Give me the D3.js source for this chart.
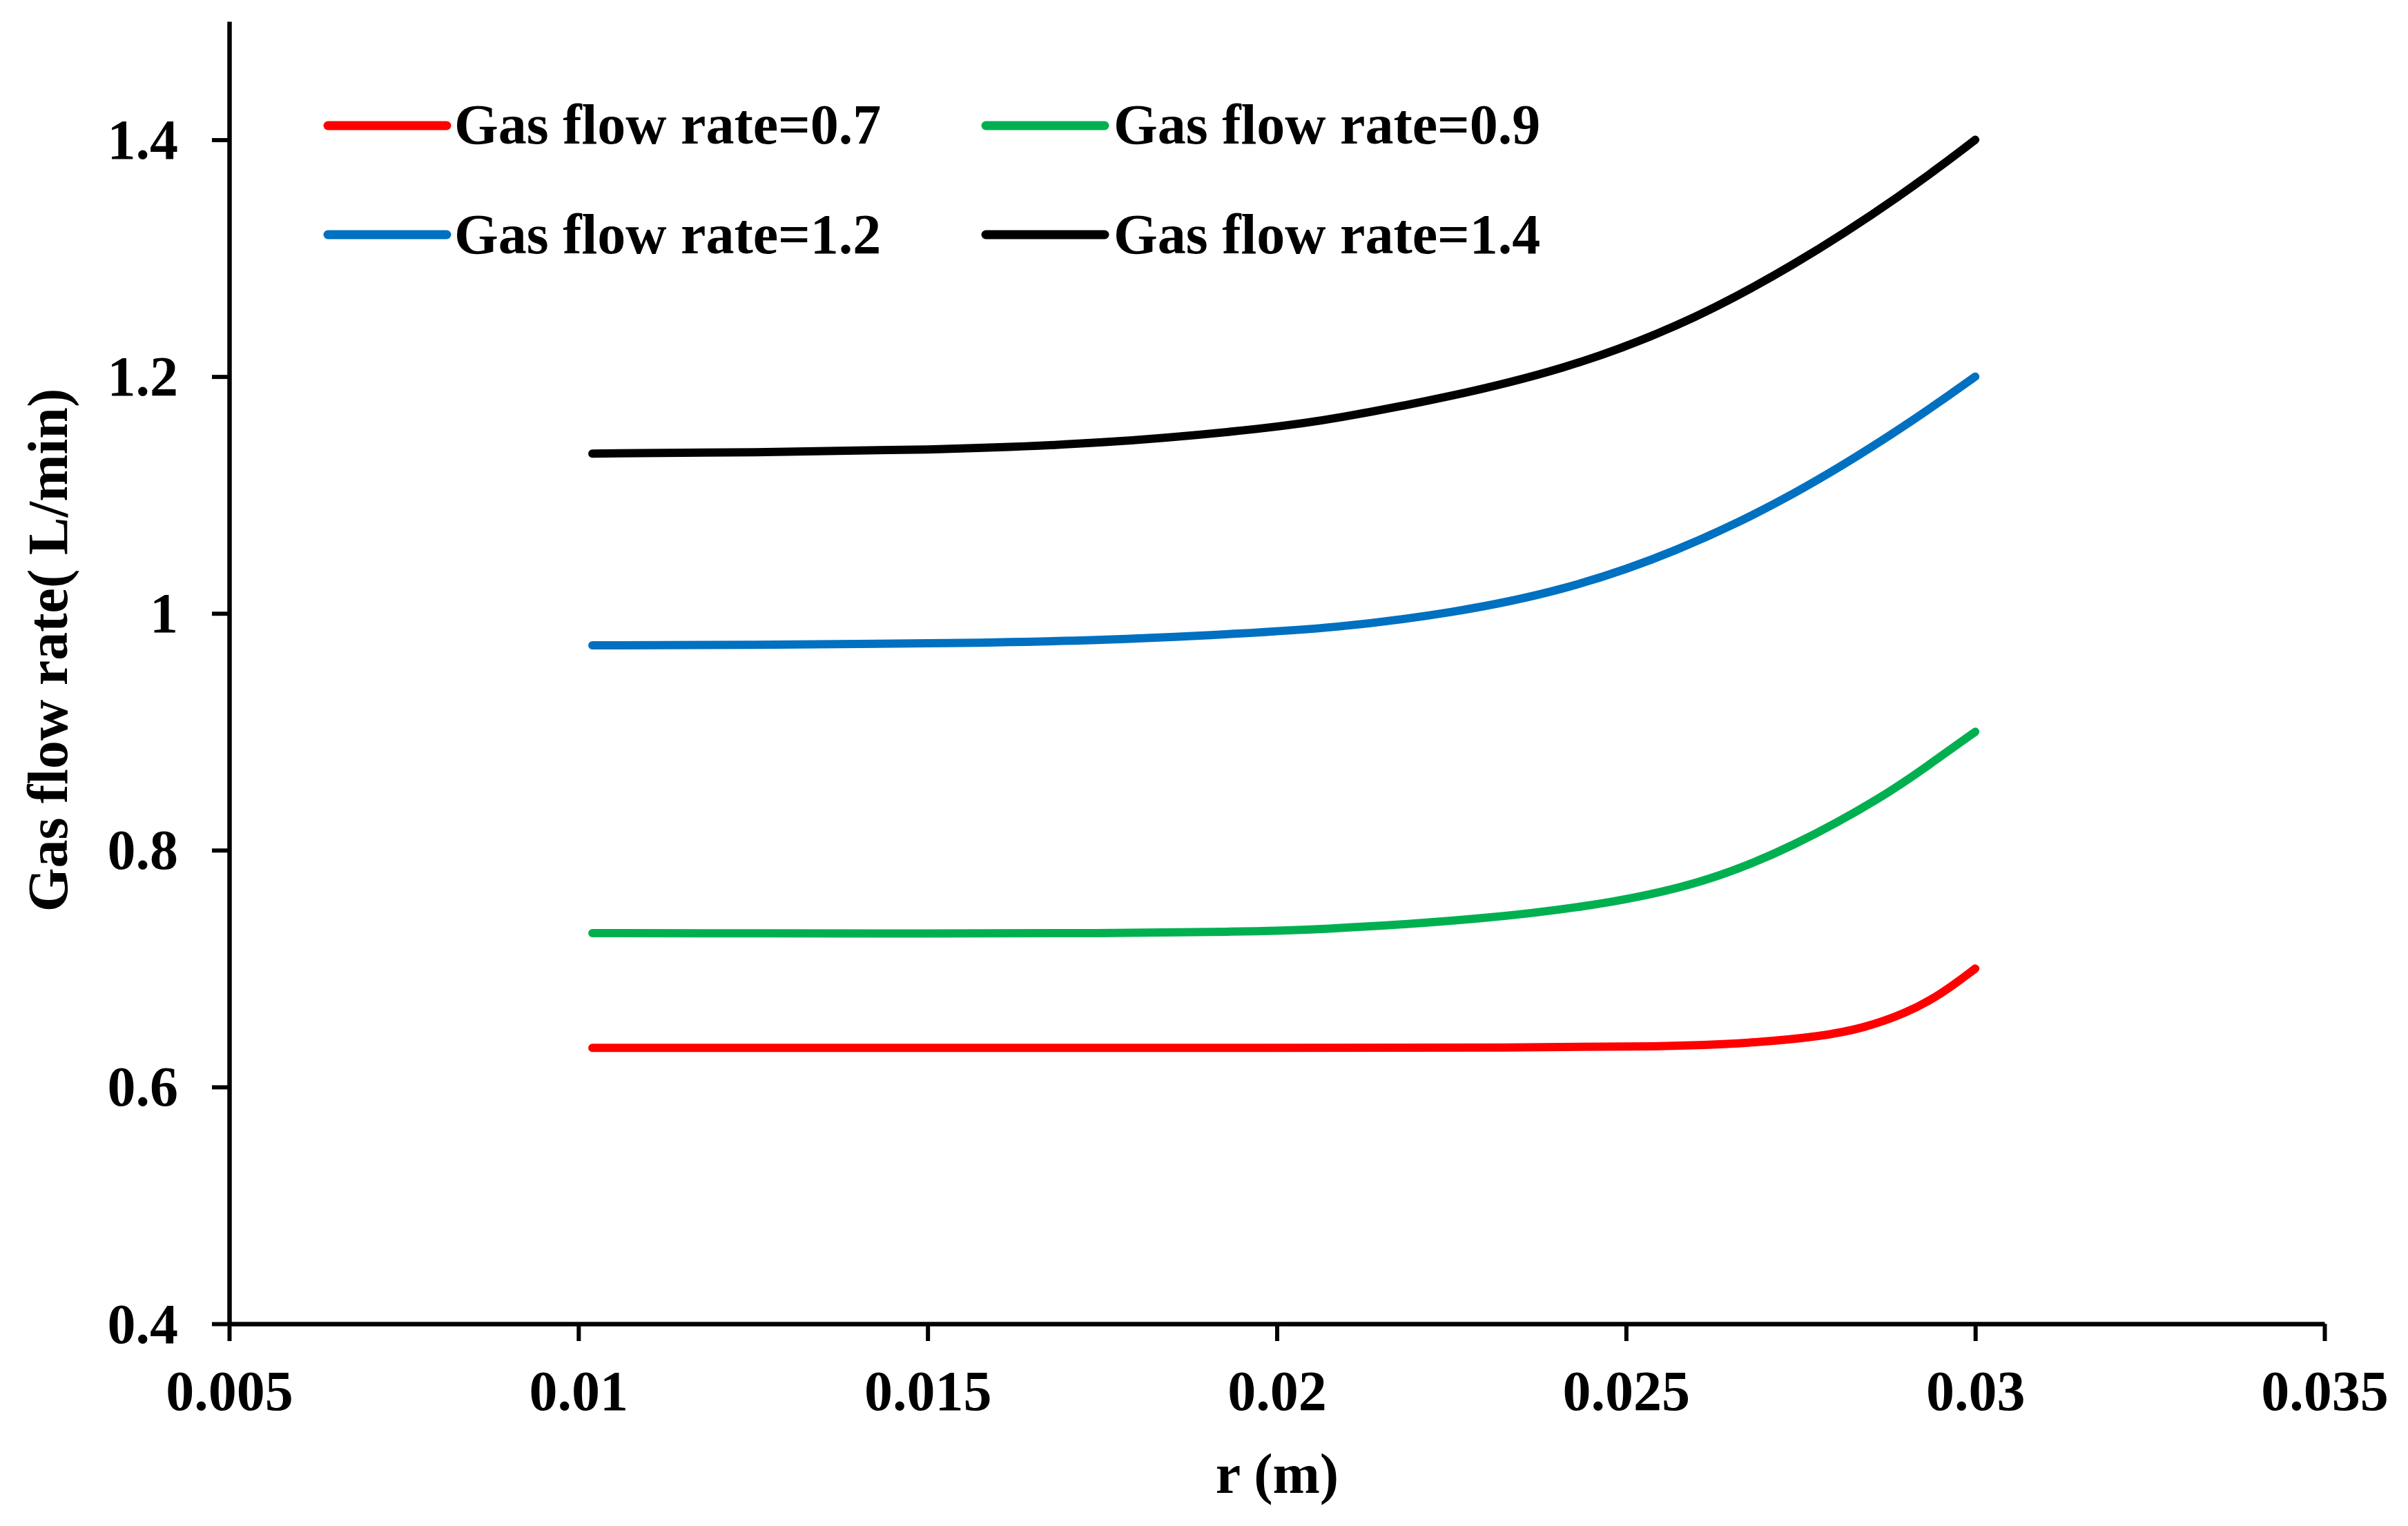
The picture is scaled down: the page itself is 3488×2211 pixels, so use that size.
<!DOCTYPE html>
<html>
<head>
<meta charset="utf-8">
<script src="https://cdn.jsdelivr.net/npm/d3@7"></script>
<style>
  html, body { margin: 0; padding: 0; background: #fff; }
  svg { display: block; }
  text { font-family: "Liberation Serif", "Times New Roman", serif; font-weight: bold; fill: #000; }
</style>
</head>
<body>
<svg id="chart" width="3488" height="2211"></svg>
<script>
// ---- data ----
const seriesNames = ["Gas flow rate=0.7", "Gas flow rate=0.9", "Gas flow rate=1.2", "Gas flow rate=1.4"];
const seriesColors = ["#FF0000", "#00B050", "#0070C0", "#000000"];

const rRed   = [0.0102, 0.015, 0.020, 0.0235, 0.0255, 0.0268, 0.0278, 0.0284, 0.0290, 0.0295, 0.0300];
const qRed   = [0.633, 0.633, 0.633, 0.6333, 0.634, 0.637, 0.6427, 0.6497, 0.662, 0.6777, 0.700];

const rGreen = [0.0102, 0.0125, 0.015, 0.0175, 0.0195, 0.0205, 0.0230, 0.0249, 0.0262, 0.0274, 0.0287, 0.0293, 0.0300];
const qGreen = [0.730, 0.7298, 0.7295, 0.7298, 0.7312, 0.7325, 0.7415, 0.756, 0.774, 0.803, 0.8457, 0.8705, 0.900];

const rBlue  = [0.0102, 0.0125, 0.015, 0.0175, 0.0195, 0.0208, 0.0225, 0.0241, 0.0257, 0.0274, 0.0290, 0.0300];
const qBlue  = [0.973, 0.9733, 0.9745, 0.977, 0.983, 0.9875, 1.000, 1.019, 1.051, 1.099, 1.158, 1.200];

const rBlack = [0.0102, 0.0125, 0.015, 0.0175, 0.020, 0.0208, 0.0225, 0.0241, 0.0257, 0.0274, 0.0290, 0.0300];
const qBlack = [1.135, 1.136, 1.138, 1.143, 1.157, 1.164, 1.183, 1.206, 1.240, 1.293, 1.355, 1.400];

const xTicks = [0.005, 0.01, 0.015, 0.02, 0.025, 0.03, 0.035];
const xTickLabels = ["0.005", "0.01", "0.015", "0.02", "0.025", "0.03", "0.035"];
const yTicks = [0.4, 0.6, 0.8, 1.0, 1.2, 1.4];
const yTickLabels = ["0.4", "0.6", "0.8", "1", "1.2", "1.4"];

const xTitle = "r (m)";
const yTitle = "Gas flow rate( L/min)";

// ---- layout ----
const svg = d3.select("#chart");
const plotLeft = 332, plotRight = 3367, plotTop = 31, plotBottom = 1918;

const x = d3.scaleLinear().domain([0.005, 0.035]).range([plotLeft, plotRight]);
const y = d3.scaleLinear().domain([0.4, 1.5]).range([plotBottom, plotTop]);

const fontSize = 82;

// axes
const xAxis = d3.axisBottom(x).tickValues(xTicks).tickSizeInner(25).tickSizeOuter(0)
  .tickFormat((d, i) => xTickLabels[i]);
const yAxis = d3.axisLeft(y).tickValues(yTicks).tickSizeInner(25).tickSizeOuter(0)
  .tickFormat((d, i) => yTickLabels[i]);

const gx = svg.append("g").attr("transform", `translate(0,${plotBottom})`).call(xAxis);
const gy = svg.append("g").attr("transform", `translate(${plotLeft},0)`).call(yAxis);

[gx, gy].forEach(g => {
  g.select(".domain").attr("stroke", "#000").attr("stroke-width", 6.5);
  g.selectAll(".tick line").attr("stroke", "#000").attr("stroke-width", 6);
  g.selectAll(".tick text")
    .style("font-family", '"Liberation Serif", "Times New Roman", serif')
    .style("font-weight", "bold")
    .style("font-size", fontSize + "px")
    .attr("fill", "#000");
});
gx.selectAll(".tick text").attr("dy", null).attr("y", 125);
gy.selectAll(".tick text").attr("dy", null).attr("x", -74).attr("y", 27);

// axis titles
svg.append("text")
  .attr("x", 1850).attr("y", 2163)
  .attr("text-anchor", "middle")
  .style("font-size", fontSize + "px")
  .text(xTitle);

svg.append("text")
  .attr("transform", "translate(97,942) rotate(-90)")
  .attr("text-anchor", "middle")
  .style("font-size", fontSize + "px")
  .text(yTitle);

// lines
const seriesData = [
  rRed.map((r, i) => [r, qRed[i]]),
  rGreen.map((r, i) => [r, qGreen[i]]),
  rBlue.map((r, i) => [r, qBlue[i]]),
  rBlack.map((r, i) => [r, qBlack[i]])
];

const line = d3.line().x(d => x(d[0])).y(d => y(d[1])).curve(d3.curveBasis);

svg.append("g").selectAll("path")
  .data(seriesData)
  .join("path")
  .attr("d", line)
  .attr("fill", "none")
  .attr("stroke", (d, i) => seriesColors[i])
  .attr("stroke-width", 12)
  .attr("stroke-linecap", "round")
  .attr("stroke-linejoin", "round");

// legend
const legendPos = [
  { lx: 475, ly: 182, tx: 658, ty: 208 },
  { lx: 1428, ly: 182, tx: 1613, ty: 208 },
  { lx: 475, ly: 340, tx: 658, ty: 367 },
  { lx: 1428, ly: 340, tx: 1613, ty: 367 }
];
const lg = svg.append("g");
seriesNames.forEach((name, i) => {
  const p = legendPos[i];
  lg.append("line")
    .attr("x1", p.lx).attr("x2", p.lx + 172)
    .attr("y1", p.ly).attr("y2", p.ly)
    .attr("stroke", seriesColors[i])
    .attr("stroke-width", 13)
    .attr("stroke-linecap", "round");
  lg.append("text")
    .attr("x", p.tx).attr("y", p.ty)
    .style("font-size", fontSize + "px")
    .text(name);
});
</script>
</body>
</html>
